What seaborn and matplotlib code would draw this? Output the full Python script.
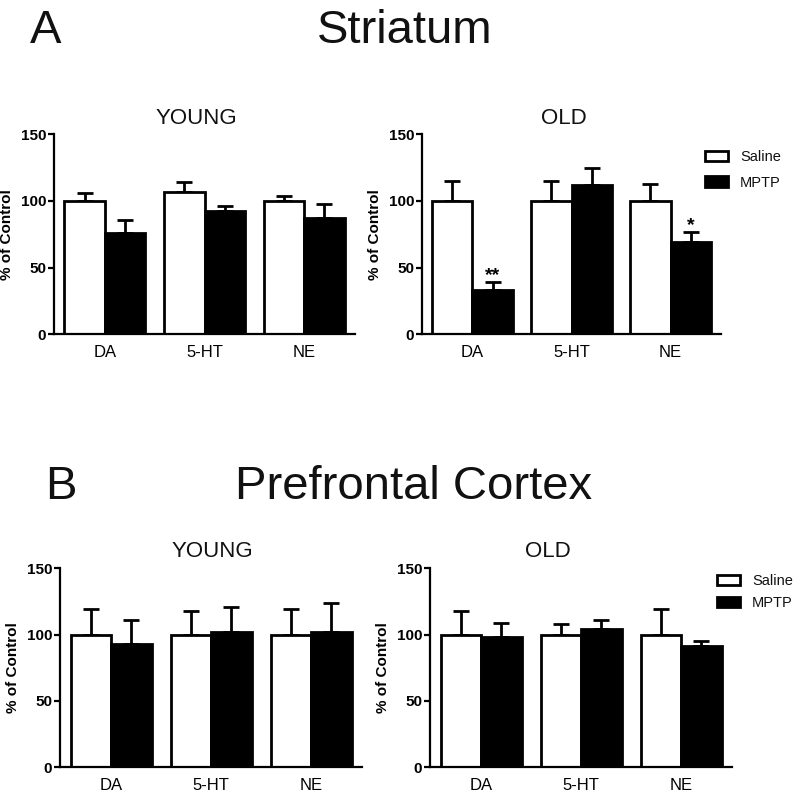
import matplotlib
matplotlib.use("Agg")
import matplotlib.pyplot as plt
import seaborn as sns
import pandas as pd
from matplotlib.patches import Patch

# ---------------- data ----------------
categories = ["DA", "5-HT", "NE"]
treatments = ["Saline", "MPTP"]

# Striatum
str_young_saline = [100, 107, 100]
str_young_saline_err = [6, 7, 4]
str_young_mptp = [76, 92.5, 87]
str_young_mptp_err = [10, 3.5, 10.5]

str_old_saline = [100, 100, 100]
str_old_saline_err = [15, 15, 13]
str_old_mptp = [33.5, 112, 69]
str_old_mptp_err = [5.5, 12.5, 7.5]
str_old_mptp_sig = ["**", "", "*"]

# Prefrontal cortex
pfc_young_saline = [100, 100, 100]
pfc_young_saline_err = [19, 17.5, 19]
pfc_young_mptp = [93, 102, 102]
pfc_young_mptp_err = [18, 19, 22]

pfc_old_saline = [100, 100, 100]
pfc_old_saline_err = [18, 8, 19]
pfc_old_mptp = [98, 104.5, 91.5]
pfc_old_mptp_err = [10.5, 6.3, 4]

yticks = [0, 50, 100, 150]
section_titles = ["Striatum", "Prefrontal Cortex"]
section_letters = ["A", "B"]
panel_titles = ["YOUNG", "OLD"]

# ---------------- style ----------------
sns.set_style("ticks")
plt.rcParams["font.family"] = ["Liberation Sans", "DejaVu Sans"]
plt.rcParams["text.color"] = "#111111"
plt.rcParams["axes.labelcolor"] = "black"

fig = plt.figure(figsize=(8.0, 7.96), dpi=100)
W, H = 800.0, 796.0

def fx(px):
    return px / W

def fy(py):
    return 1 - py / H

palette = {"Saline": "white", "MPTP": "black"}

def make_df(sal, mptp):
    return pd.DataFrame({
        "transmitter": categories * 2,
        "treatment": ["Saline"] * 3 + ["MPTP"] * 3,
        "value": list(sal) + list(mptp),
    })

panels = [
    dict(rect=(54, 334.3, 301, 200), sal=str_young_saline, sal_err=str_young_saline_err,
         mptp=str_young_mptp, mptp_err=str_young_mptp_err, sig=None,
         title=panel_titles[0], tcx=196, tby=123.5, legend=None),
    dict(rect=(422, 334.3, 299, 200), sal=str_old_saline, sal_err=str_old_saline_err,
         mptp=str_old_mptp, mptp_err=str_old_mptp_err, sig=str_old_mptp_sig,
         title=panel_titles[1], tcx=564, tby=123.5, legend=(705, 150, 0.8)),
    dict(rect=(60, 767.3, 302, 199), sal=pfc_young_saline, sal_err=pfc_young_saline_err,
         mptp=pfc_young_mptp, mptp_err=pfc_young_mptp_err, sig=None,
         title=panel_titles[0], tcx=212, tby=557, legend=None),
    dict(rect=(430, 767.3, 302, 199), sal=pfc_old_saline, sal_err=pfc_old_saline_err,
         mptp=pfc_old_mptp, mptp_err=pfc_old_mptp_err, sig=None,
         title=panel_titles[1], tcx=548, tby=557, legend=(717, 574, 0.55)),
]

for p in panels:
    l, b, w, h = p["rect"]
    ax = fig.add_axes([fx(l), fy(b), w / W, h / H])
    df = make_df(p["sal"], p["mptp"])
    sns.barplot(data=df, x="transmitter", y="value", hue="treatment",
                order=categories, hue_order=treatments, palette=palette,
                edgecolor="black", linewidth=2, width=0.81, errorbar=None,
                legend=False, ax=ax, zorder=2)
    # one-sided (upper) error bars
    for cont, errs in zip(ax.containers, [p["sal_err"], p["mptp_err"]]):
        for bar, e in zip(cont, errs):
            xc = bar.get_x() + bar.get_width() / 2
            yt = bar.get_height()
            ax.errorbar([xc], [yt], yerr=[[0], [e]], fmt="none", ecolor="black",
                        elinewidth=2, capsize=6, capthick=2, zorder=1)
    if p["sig"] is not None:
        cont = ax.containers[1]
        for bar, e, s in zip(cont, p["mptp_err"], p["sig"]):
            if s:
                xc = bar.get_x() + bar.get_width() / 2
                ax.text(xc, bar.get_height() + e + 1.5, s, ha="center", va="baseline",
                        fontsize=14, fontweight="bold", color="black")
    ax.set_xlim(-0.51, 2.51)
    ax.set_ylim(0, 150)
    ax.set_yticks(yticks)
    ax.set_yticklabels([str(t) for t in yticks], fontweight="bold", fontsize=11)
    ax.set_xlabel("")
    ax.set_ylabel("% of Control", fontweight="bold", fontsize=11, labelpad=5)
    ax.tick_params(axis="y", length=4, width=1.6, pad=1.5, colors="black")
    ax.tick_params(axis="x", length=0, pad=8, labelsize=12, colors="black")
    for sp in ["top", "right"]:
        ax.spines[sp].set_visible(False)
    for sp in ["left", "bottom"]:
        ax.spines[sp].set_linewidth(1.6)
        ax.spines[sp].set_color("black")
    ax.set_facecolor("white")
    fig.text(fx(p["tcx"]), fy(p["tby"]), p["title"], ha="center", va="baseline",
             fontsize=16)
    if p["legend"] is not None:
        lx, ly, ls = p["legend"]
        handles = [Patch(facecolor=palette[t], edgecolor="black", linewidth=2) for t in treatments]
        ax.legend(handles, treatments, loc="upper left", bbox_to_anchor=(fx(lx), fy(ly)),
                  bbox_transform=fig.transFigure, frameon=False, fontsize=10.5,
                  handlelength=1.6, handleheight=0.75, handletextpad=0.8,
                  labelspacing=ls, borderpad=0, borderaxespad=0)

# section headings
fig.text(fx(30), fy(43), section_letters[0], ha="left", va="baseline", fontsize=34)
fig.text(fx(317), fy(43), section_titles[0], ha="left", va="baseline", fontsize=34)
fig.text(fx(45), fy(499), section_letters[1], ha="left", va="baseline", fontsize=34)
fig.text(fx(235), fy(499), section_titles[1], ha="left", va="baseline", fontsize=34)

fig.savefig("out.png", dpi=100, facecolor="white")
